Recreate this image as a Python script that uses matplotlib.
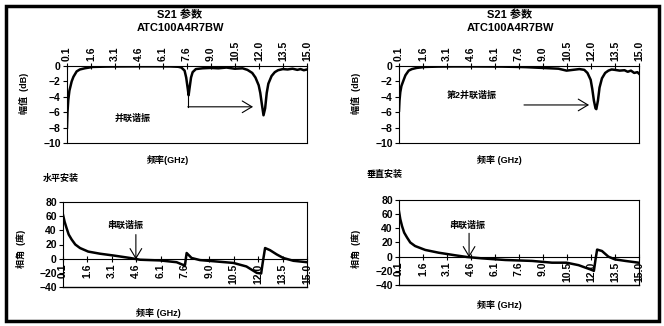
import numpy as np
import matplotlib.pyplot as plt
from matplotlib.patches import Rectangle

plt.rcParams['font.family'] = ['Liberation Sans', 'Noto Sans CJK SC']
plt.rcParams['font.weight'] = 'bold'

W, H = 664, 326

# tick labels (Excel category style, 11 labels across 0.1 .. 15.0 GHz)
tick_pos = np.linspace(0.1, 15.0, 11)
tick_labels = ['0.1', '1.6', '3.1', '4.6', '6.1', '7.6', '9.0', '10.5', '12.0', '13.5', '15.0']

# S21 magnitude, horizontal mounting (dB)
f_mag_h = [0.1, 0.13, 0.18, 0.25, 0.39, 0.5, 0.7, 0.9, 1.2, 1.7, 2.5, 3.5, 4.5, 5.5, 6.5, 7.0,
           7.2, 7.4, 7.5, 7.6, 7.65, 7.7, 7.8, 7.9, 8.1, 8.5, 9.0, 9.5, 10.0, 10.5, 11.0, 11.3,
           11.6, 11.8, 12.0, 12.1, 12.2, 12.3, 12.4, 12.5, 12.6, 12.8, 13.0, 13.2, 13.5, 13.8,
           14.1, 14.4, 14.6, 14.8, 15.0]
mag_h = [-8.0, -6.0, -4.4, -3.2, -2.0, -1.4, -0.7, -0.45, -0.3, -0.12, -0.08, -0.06, -0.05, -0.05, -0.06, -0.1,
         -0.2, -0.6, -1.5, -3.0, -3.8, -3.0, -1.5, -0.8, -0.4, -0.3, -0.25, -0.3, -0.2, -0.35, -0.3, -0.5,
         -0.9, -1.5, -2.5, -3.5, -5.0, -6.4, -5.5, -3.5, -2.3, -1.3, -0.8, -0.55, -0.4, -0.45,
         -0.35, -0.5, -0.4, -0.55, -0.45]

# S21 magnitude, vertical mounting (dB)
f_mag_v = [0.1, 0.13, 0.18, 0.25, 0.39, 0.5, 0.7, 0.9, 1.2, 1.7, 2.5, 3.5, 4.5, 5.5, 6.5, 7.5,
           8.0, 8.5, 9.0, 9.5, 10.0, 10.5, 10.9, 11.3, 11.6, 11.8, 12.0, 12.1, 12.2, 12.3, 12.35,
           12.45, 12.55, 12.7, 12.9, 13.1, 13.3, 13.5, 13.8, 14.1, 14.3, 14.5, 14.7, 14.9, 15.0]
mag_v = [-5.8, -4.5, -3.4, -2.6, -1.8, -1.2, -0.6, -0.4, -0.25, -0.12, -0.08, -0.06, -0.06, -0.07, -0.08, -0.12,
         -0.15, -0.2, -0.25, -0.3, -0.35, -0.6, -0.5, -0.4, -0.5, -0.9, -1.8, -3.0, -4.5, -5.5, -5.6,
         -4.5, -2.8, -1.6, -0.9, -0.6, -0.45, -0.5, -0.6, -0.55, -0.75, -0.6, -0.9, -0.8, -1.0]

# S21 phase, horizontal mounting (deg)
f_ph_h = [0.1, 0.2, 0.32, 0.45, 0.63, 0.85, 1.14, 1.64, 2.36, 3.17, 4.19, 4.8, 6.02, 7.04, 7.4,
          7.55, 7.65, 7.95, 8.46, 9.48, 10.5, 11.3, 11.93, 12.2, 12.3, 12.44, 12.74, 13.15, 13.55,
          14.17, 15.0]
ph_h = [62, 52, 43, 34, 27, 20, 15, 10, 7, 4.5, 1, -1.5, -2.5, -5, -8.5,
        -9, 8, 1, -2, -4, -6, -11, -20, -21, -5, 15, 12, 6, 1,
        -3, -5]

# S21 phase, vertical mounting (deg)
f_ph_v = [0.1, 0.18, 0.29, 0.42, 0.6, 0.8, 1.1, 1.73, 2.56, 3.6, 4.33, 5.25, 6.7, 8.36, 9.6,
          10.5, 11.25, 11.98, 12.2, 12.3, 12.4, 12.7, 13.1, 13.5, 14.15, 14.98]
ph_v = [64, 53, 43, 34, 27, 20, 15, 9.5, 5.6, 1.9, -0.5, -2.4, -4.7, -6, -8.5,
        -8.5, -12, -18, -20, -4, 10, 8, 0, -3.8, -6, -8.5]


def px_axes(l, t, r, b):
    return fig.add_axes([l / W, 1 - b / H, (r - l) / W, (b - t) / H])


def style_mag(ax):
    ax.set_xlim(0.1, 15.0)
    ax.set_ylim(-10, 0)
    ax.set_yticks(range(-10, 1, 2))
    ax.xaxis.tick_top()
    ax.set_xticks(tick_pos)
    ax.set_xticklabels(tick_labels, rotation=90)
    ax.tick_params(axis='x', direction='inout', length=5, width=0.8, pad=1, labelsize=7.5)
    ax.tick_params(axis='y', direction='out', length=3, width=0.8, pad=1.5, labelsize=7.5)
    for s in ax.spines.values():
        s.set_linewidth(0.8)


def style_phase(ax):
    ax.set_xlim(0.1, 15.0)
    ax.set_ylim(-40, 80)
    ax.spines['bottom'].set_position(('data', 0))
    ax.axhline(-40, color='black', lw=1.0, clip_on=False)
    ax.set_yticks(range(-40, 81, 20))
    ax.set_xticks(tick_pos)
    ax.set_xticklabels(tick_labels)
    ax.tick_params(axis='x', direction='inout', length=5, width=0.8, pad=1, labelsize=7.5,
                   labelrotation=90)
    ax.tick_params(axis='y', direction='out', length=3, width=0.8, pad=1.5, labelsize=7.5)
    for s in ax.spines.values():
        s.set_linewidth(0.8)


fig = plt.figure(figsize=(W / 100, H / 100), dpi=100)

small = dict(fontsize=6.5, fontweight='bold')
arrow_kw = dict(arrowstyle='->,head_length=0.5,head_width=0.3', lw=0.8, color='black',
                mutation_scale=14, shrinkA=0, shrinkB=0)

# ---- top left: magnitude, horizontal
ax1 = px_axes(67, 66, 307, 143)
ax1.plot(f_mag_h, mag_h, color='black', lw=1.8)
style_mag(ax1)
ax1.set_ylabel('幅值  (dB)', **small)
ax1.yaxis.set_label_coords(-0.16, 0.65)
ax1.set_xlabel('频率(GHz)', **small)
ax1.xaxis.set_label_position('bottom')
ax1.xaxis.set_label_coords(0.42, -0.16)
ax1.text(4.2, -6.75, '并联谐振', ha='center', va='center', **small)
ax1.plot([7.6, 7.6], [-2.8, -5.3], color='black', lw=0.8)
ax1.annotate('', xy=(11.65, -5.3), xytext=(7.6, -5.3), arrowprops=arrow_kw)

# ---- top right: magnitude, vertical
ax2 = px_axes(399, 66, 639, 143)
ax2.plot(f_mag_v, mag_v, color='black', lw=1.8)
style_mag(ax2)
ax2.set_ylabel('幅值  (dB)', **small)
ax2.yaxis.set_label_coords(-0.16, 0.65)
ax2.set_xlabel('频率 (GHz)', **small)
ax2.xaxis.set_label_position('bottom')
ax2.xaxis.set_label_coords(0.42, -0.16)
ax2.text(4.63, -3.8, '第2并联谐振', ha='center', va='center', **small)
ax2.annotate('', xy=(11.9, -5.06), xytext=(7.86, -5.06), arrowprops=arrow_kw)

# ---- bottom left: phase, horizontal
ax3 = px_axes(63, 202, 307, 287)
ax3.plot(f_ph_h, ph_h, color='black', lw=1.8)
style_phase(ax3)
ax3.set_ylabel('相角  (度)', **small)
ax3.yaxis.set_label_coords(-0.15, 0.45)
ax3.set_xlabel('频率 (GHz)', **small)
ax3.xaxis.set_label_coords(0.39, -0.25)
ax3.text(3.89, 47.5, '串联谐振', ha='center', va='center', **small)
ax3.annotate('', xy=(4.55, -1), xytext=(4.55, 34), arrowprops=arrow_kw)

# ---- bottom right: phase, vertical
ax4 = px_axes(399, 200, 639, 285)
ax4.plot(f_ph_v, ph_v, color='black', lw=1.8)
style_phase(ax4)
ax4.set_ylabel('相角  (度)', **small)
ax4.yaxis.set_label_coords(-0.16, 0.42)
ax4.set_xlabel('频率 (GHz)', **small)
ax4.xaxis.set_label_coords(0.42, -0.18)
ax4.text(4.32, 44.7, '串联谐振', ha='center', va='center', **small)
ax4.annotate('', xy=(4.45, -1), xytext=(4.45, 33), arrowprops=arrow_kw)

# titles and captions
for cx in (180, 510):
    fig.text(cx / W, 1 - 15 / H, 'S21 参数', ha='center', va='center', fontsize=8, fontweight='bold')
    fig.text(cx / W, 1 - 28 / H, 'ATC100A4R7BW', ha='center', va='center', fontsize=8)
fig.text(43 / W, 1 - 178 / H, '水平安装', ha='left', va='center', **small)
fig.text(367 / W, 1 - 175 / H, '垂直安装', ha='left', va='center', **small)

# outer frame
fig.patches.append(Rectangle((5.5 / W, 5 / H), (659 - 5.5) / W, (321 - 5.5) / H,
                             transform=fig.transFigure, fill=False, lw=2.5, ec='black'))

fig.savefig('out.png', dpi=100)
